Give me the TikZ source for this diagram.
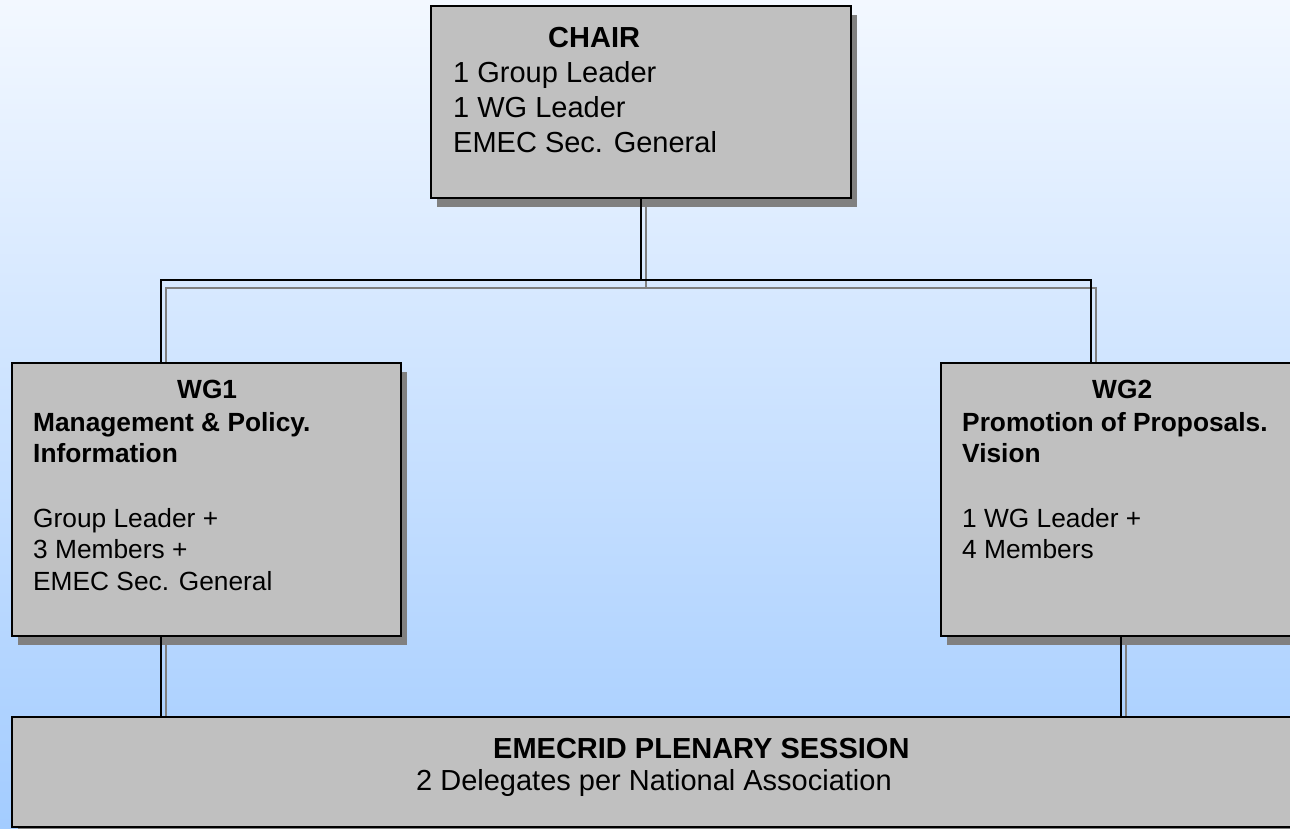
\documentclass[tikz,border=0pt]{standalone}
\usepackage{fontspec}
\setmainfont{Liberation Sans}
\usetikzlibrary{shadows}
\definecolor{bgtop}{HTML}{F3F8FF}
\definecolor{bgbot}{HTML}{A3CCFF}
\definecolor{boxfill}{HTML}{C0C0C0}
\definecolor{shadowgray}{HTML}{808080}
\tikzset{
  orgbox/.style={draw=black, line width=2.2pt, fill=boxfill, rectangle, inner sep=0pt, outer sep=0pt,
    drop shadow={shadow xshift=5.5pt, shadow yshift=-8.5pt, fill=shadowgray, opacity=1}},
  conn/.style={draw=black, line width=2.2pt},
  connshadow/.style={draw=shadowgray, line width=2.2pt},
  bigtxt/.style={anchor=base west, inner sep=0pt, font=\fontsize{29pt}{35pt}\selectfont},
  bigbold/.style={bigtxt, font=\fontsize{29pt}{35pt}\selectfont\bfseries},
  wgtxt/.style={anchor=base west, inner sep=0pt, font=\fontsize{26.3pt}{32pt}\selectfont},
  wgbold/.style={wgtxt, font=\fontsize{26.3pt}{32pt}\selectfont\bfseries},
}
\begin{document}
\begin{tikzpicture}[x=1pt, y=-1pt]
\clip (0,0) rectangle (1290,828);
\shade[top color=bgtop, bottom color=bgbot] (0,0) rectangle (1290,828);

% connector coordinates
\coordinate (top) at (641,198);
\coordinate (bus) at (641,280);
\coordinate (t1) at (161,363);
\coordinate (t2) at (1091,363);
\coordinate (b1) at (161,636);
\coordinate (b2) at (1121,636);
\coordinate (p1) at (161,717);
\coordinate (p2) at (1121,717);

% connector shadows
\tikzset{sh/.style={shift={(5,8)}}}
\draw[connshadow] ([sh]top) -- ([sh]bus);
\draw[connshadow] ([sh]t1) |- ([sh]bus) -| ([sh]t2);
\draw[connshadow] ([sh]b1) -- ([sh]p1);
\draw[connshadow] ([sh]b2) -- ([sh]p2);

% boxes
\node[orgbox, minimum width=420pt, minimum height=192pt] (chair) at (641,102) {};
\node[orgbox, minimum width=389pt, minimum height=273pt] (wg1) at (206.5,499.5) {};
\node[orgbox, minimum width=360pt, minimum height=273pt] (wg2) at (1121,499.5) {};
\node[orgbox, minimum width=1298pt, minimum height=110pt] (plen) at (661,772) {};

% connectors
\draw[conn] (chair.south) -- (bus);
\draw[conn] (t1) |- (bus) -| (t2);
\draw[conn] (b1) -- (b1 |- plen.north);
\draw[conn] (b2) -- (b2 |- plen.north);

% chair text
\node[bigbold] (c0) at (548,47) {CHAIR};
\node[bigtxt] (c1) at (453,82) {1 Group Leader};
\node[bigtxt] (c2) at (453,117) {1 WG Leader};
\node[bigtxt] (c3) at (453,152) {EMEC Sec. General};

% WG1 text
\node[wgbold] (w10) at (177,398) {WG1};
\node[wgbold] (w11) at (33,431) {Management \& Policy.};
\node[wgbold] (w12) at (33,462) {Information};
\node[wgtxt] (w13) at (33,527) {Group Leader +};
\node[wgtxt] (w14) at (33,558) {3 Members +};
\node[wgtxt] (w15) at (33,590) {EMEC Sec. General};

% WG2 text
\node[wgbold] (w20) at (1092,398) {WG2};
\node[wgbold] (w21) at (962,431) {Promotion of Proposals.};
\node[wgbold] (w22) at (962,462) {Vision};
\node[wgtxt] (w23) at (962,527) {1 WG Leader +};
\node[wgtxt] (w24) at (962,558) {4 Members};

% plenary text
\node[bigbold] (p0) at (493,758) {EMECRID PLENARY SESSION};
\node[bigtxt] (p3) at (416,790) {2 Delegates per National Association};
\end{tikzpicture}
\end{document}
